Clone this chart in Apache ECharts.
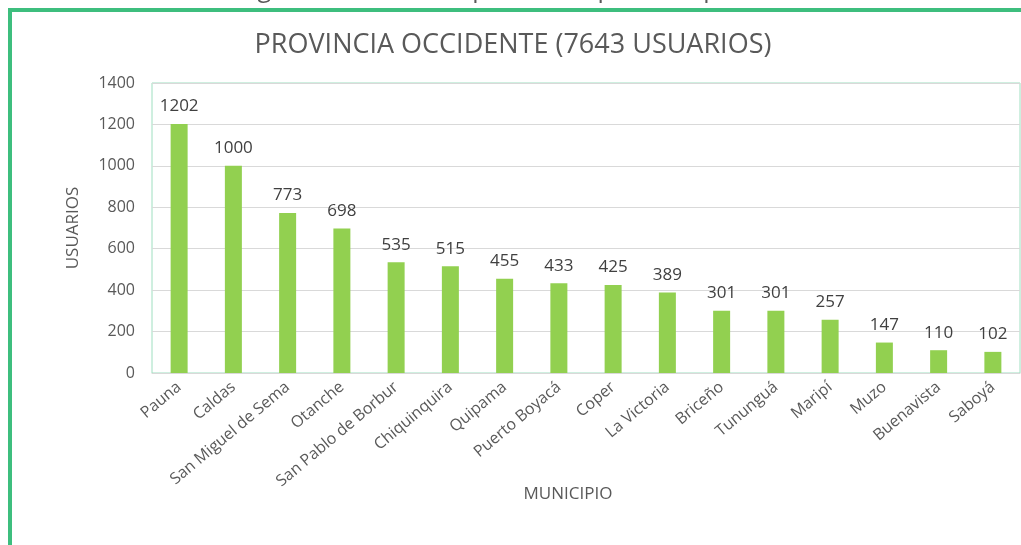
<!DOCTYPE html>
<html>
<head>
<meta charset="utf-8">
<script src="https://cdn.jsdelivr.net/npm/echarts@6/dist/echarts.min.js"></script>
<style>
    html, body { margin: 0; padding: 0; background: #fff; }
    #chart { width: 1021px; height: 545px; }
</style>
</head>
<body>
<div id="chart"></div>
<script>
// Datos del gráfico | chart data
const municipios = ['Pauna', 'Caldas', 'San Miguel de Sema', 'Otanche', 'San Pablo de Borbur',
    'Chiquinquira', 'Quipama', 'Puerto Boyacá', 'Coper', 'La Victoria', 'Briceño',
    'Tununguá', 'Maripí', 'Muzo', 'Buenavista', 'Saboyá'];
const usuarios = [1202, 1000, 773, 698, 535, 515, 455, 433, 425, 389, 301, 301, 257, 147, 110, 102];
const yTicks = [0, 200, 400, 600, 800, 1000, 1200, 1400];

const FONT = '"Open Sans", sans-serif';
const chart = echarts.init(document.getElementById('chart'));

const option = {
    animation: false,
    title: {
        text: 'PROVINCIA OCCIDENTE (7643 USUARIOS)',
        left: 508,
        top: 27,
        textAlign: 'center',
        textStyle: {
            fontFamily: FONT,
            fontSize: 27,
            fontWeight: 'normal',
            color: '#595959'
        }
    },
    graphic: [
        {
            type: 'rect',
            shape: { x: 10, y: 10, width: 1100, height: 600 },
            style: { fill: 'none', stroke: '#3dbe7e', lineWidth: 4 },
            silent: true
        },
        {
            // título del documento, cortado arriba | document caption, cut at the top
            type: 'text',
            x: 522,
            y: -10,
            style: {
                text: 'Gráfico 3. Registro de usuarios por municipio de la provincia Occidente',
                fontFamily: FONT,
                fontSize: 25,
                fill: '#595959',
                align: 'center',
                verticalAlign: 'middle'
            }
        }
    ],
    grid: {
        left: 152,
        right: 1,
        top: 83,
        bottom: 172,
        show: true,
        borderColor: '#9edfc0',
        borderWidth: 1
    },
    xAxis: {
        type: 'category',
        data: municipios,
        name: 'MUNICIPIO',
        nameLocation: 'middle',
        nameGap: 113,
        nameMoveOverlap: false,
        nameTextStyle: {
            fontFamily: FONT,
            fontSize: 17,
            color: '#595959',
            padding: [0, 36, 0, 0]
        },
        axisLine: { show: true, lineStyle: { color: '#d9d9d9', width: 1 } },
        axisTick: { show: false },
        axisLabel: {
            interval: 0,
            rotate: 40,
            margin: 12,
            fontFamily: FONT,
            fontSize: 16,
            color: '#595959'
        }
    },
    yAxis: {
        type: 'value',
        min: yTicks[0],
        max: yTicks[yTicks.length - 1],
        interval: 200,
        name: 'USUARIOS',
        nameLocation: 'middle',
        nameGap: 70,
        nameTextStyle: {
            fontFamily: FONT,
            fontSize: 17,
            color: '#595959'
        },
        axisLine: { show: false },
        axisTick: { show: false },
        axisLabel: {
            margin: 17,
            fontFamily: FONT,
            fontSize: 16,
            color: '#595959',
            formatter: v => String(v)
        },
        splitLine: { lineStyle: { color: '#d9d9d9', width: 1 } }
    },
    series: [
        {
            type: 'bar',
            data: usuarios,
            barWidth: 17,
            itemStyle: { color: '#92d050' },
            label: {
                show: true,
                position: 'top',
                distance: 9,
                fontFamily: FONT,
                fontSize: 17,
                color: '#404040'
            }
        }
    ]
};

chart.setOption(option);
</script>
</body>
</html>
